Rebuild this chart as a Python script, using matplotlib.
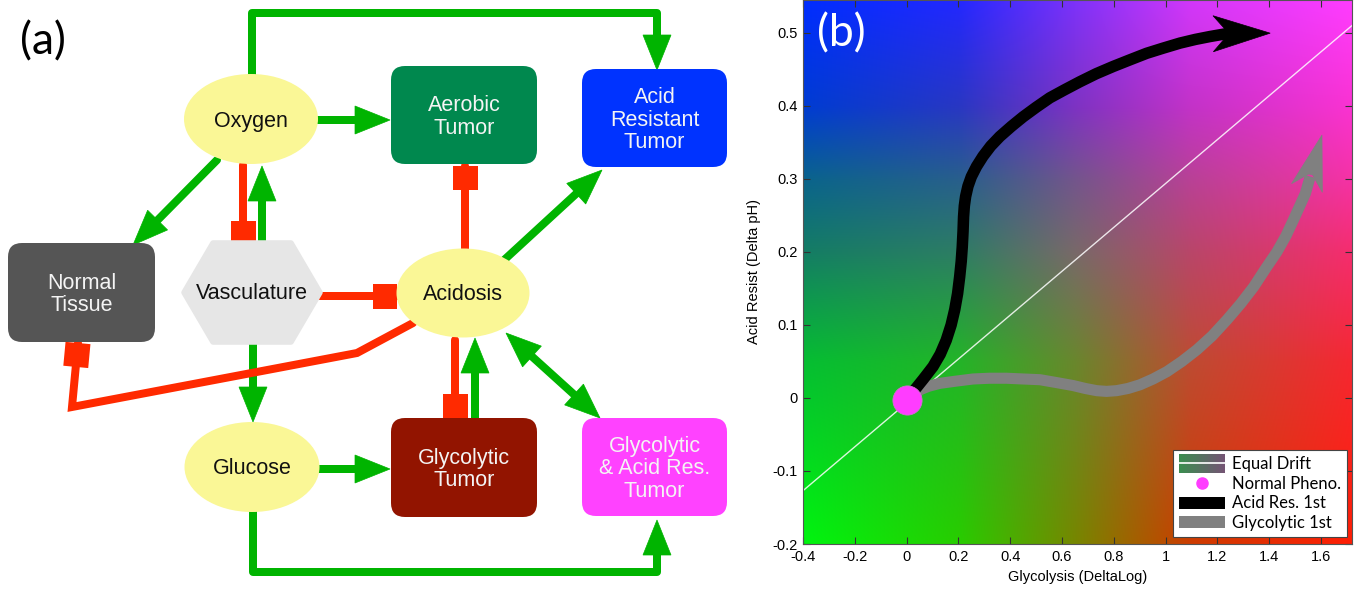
import numpy as np
import matplotlib
matplotlib.use('Agg')
import matplotlib.pyplot as plt
from matplotlib.patches import Ellipse, FancyBboxPatch, Polygon, Rectangle, Patch
from matplotlib.lines import Line2D
from matplotlib.legend_handler import HandlerBase
from matplotlib.transforms import Affine2D, ScaledTranslation

# ---------------- panel (a): network (pixel coordinates of the figure) ----------------
ellipse_names = ['Oxygen', 'Acidosis', 'Glucose']
ellipse_xy = [(251, 119), (463, 293), (252, 467)]
ellipse_wh = [(134, 90), (133, 89), (135, 90)]

box_names = ['Aerobic\nTumor', 'Acid\nResistant\nTumor', 'Normal\nTissue',
             'Glycolytic\nTumor', 'Glycolytic\n& Acid Res.\nTumor']
box_extent = [(391, 66, 537, 164), (582, 69, 727, 167), (8, 243, 155, 342),
              (391, 418, 537, 517), (582, 418, 727, 516)]
box_colors = ['#00884e', '#0033ff', '#555555', '#921400', '#ff42ff']

hex_name = 'Vasculature'
hex_extent = (184, 243, 320, 342)

activations = [
    [(252, 77), (252, 13), (657, 13), (657, 70)],
    [(318, 120), (390, 120)],
    [(217, 160), (133, 245)],
    [(262, 247), (262, 166)],
    [(253, 342), (253, 422)],
    [(503, 261), (602, 170)],
    [(319, 469), (390, 469)],
    [(253, 512), (253, 572), (657, 572), (657, 520)],
    [(475, 418), (475, 338)],
]
mutual = [[(506, 333), (600, 418)]]
inhibitions = [
    [(243, 165), (243, 245)],
    [(320, 296), (397, 296)],
    [(465, 250), (465, 166)],
    [(455, 340), (455, 418)],
    [(413, 323), (357, 353), (72, 407), (78, 343)],
]

# ---------------- panel (b): trajectories ----------------
acid_first_x = [0.02, 0.031, 0.065, 0.102, 0.130, 0.153, 0.172, 0.186, 0.197, 0.205, 0.211,
                0.215, 0.218, 0.220, 0.223, 0.228, 0.237, 0.250, 0.270, 0.295, 0.325,
                0.360, 0.405, 0.450, 0.500, 0.553, 0.610, 0.669, 0.732, 0.798, 0.862,
                0.927, 0.990, 1.056, 1.115, 1.172, 1.237, 1.404]
acid_first_y = [0.004, 0.011, 0.026, 0.043, 0.060, 0.079, 0.100, 0.121, 0.143, 0.166, 0.187,
                0.207, 0.228, 0.248, 0.263, 0.276, 0.290, 0.303, 0.317, 0.331, 0.345,
                0.358, 0.372, 0.385, 0.398, 0.411, 0.422, 0.433, 0.444, 0.454, 0.463,
                0.472, 0.479, 0.486, 0.491, 0.495, 0.499, 0.4996]
glyc_first_x = [0.03, 0.050, 0.085, 0.128, 0.190, 0.257, 0.320, 0.386, 0.450, 0.515, 0.580,
                0.643, 0.690, 0.734, 0.772, 0.811, 0.855, 0.901, 0.952, 1.005, 1.063,
                1.121, 1.180, 1.237, 1.290, 1.340, 1.386, 1.430, 1.465, 1.494, 1.540, 1.604]
glyc_first_y = [0.003, 0.011, 0.016, 0.020, 0.023, 0.026, 0.027, 0.027, 0.026, 0.025, 0.021,
                0.017, 0.013, 0.010, 0.009, 0.010, 0.013, 0.018, 0.026, 0.036, 0.050,
                0.066, 0.085, 0.107, 0.129, 0.152, 0.177, 0.200, 0.222, 0.244, 0.280, 0.360]
normal_x = [0.0]
normal_y = [-0.003]
drift_x = [-0.4, 1.72]
drift_y = [-0.127, 0.51]

x_ticks = [-0.4, -0.2, 0, 0.2, 0.4, 0.6, 0.8, 1, 1.2, 1.4, 1.6]
x_labels = ['-0.4', '-0.2', '0', '0.2', '0.4', '0.6', '0.8', '1', '1.2', '1.4', '1.6']
y_ticks = [-0.2, -0.1, 0, 0.1, 0.2, 0.3, 0.4, 0.5]
y_labels = ['-0.2', '-0.1', '0', '0.1', '0.2', '0.3', '0.4', '0.5']

# background colour field (control colours)
bg_x = [-0.4, 0.2, 0.65, 1.1, 1.72]
bg_y = [-0.2, 0.05, 0.2, 0.3, 0.4, 0.545]
bg_rgb = np.array([
    [(0, 245, 15), (40, 205, 0), (118, 135, 0), (205, 60, 0), (255, 30, 5)],
    [(5, 190, 50), (35, 180, 40), (105, 135, 45), (190, 75, 50), (245, 40, 50)],
    [(20, 125, 100), (45, 125, 100), (120, 105, 105), (185, 70, 105), (245, 45, 110)],
    [(10, 100, 140), (40, 95, 140), (115, 85, 140), (185, 65, 150), (245, 50, 165)],
    [(0, 60, 210), (40, 55, 195), (125, 50, 195), (195, 50, 200), (250, 50, 210)],
    [(0, 45, 255), (35, 40, 255), (125, 50, 250), (210, 55, 250), (255, 60, 255)],
]) / 255.0

GREEN = '#00b400'
RED = '#ff2a00'
YELLOW = '#faf796'
LW = 8 * 0.72
NODE_FONT = 15.5

fig = plt.figure(figsize=(13.55, 5.95), dpi=100)

# ---- panel (a)
ax = fig.add_axes([0, 0, 740 / 1355, 1])
ax.set_xlim(0, 740)
ax.set_ylim(595, 0)
ax.axis('off')


def unit(p0, p1):
    d = np.array(p1, float) - np.array(p0, float)
    u = d / np.hypot(*d)
    return u, np.array([-u[1], u[0]])


def head(p0, p1, length=35, half=14):
    u, n = unit(p0, p1)
    tip = np.array(p1, float)
    base = tip - length * u
    ax.add_patch(Polygon([tip, base + half * n, base - half * n], closed=True,
                         fc=GREEN, ec=GREEN, lw=0.5, zorder=3))
    return base


for pts in activations:
    base = head(pts[-2], pts[-1])
    xy = np.array(pts[:-1] + [tuple(base)], float)
    ax.plot(xy[:, 0], xy[:, 1], color=GREEN, lw=LW, solid_capstyle='round',
            solid_joinstyle='round', zorder=2)

for pts in mutual:
    b1 = head(pts[0], pts[1])
    b0 = head(pts[1], pts[0])
    ax.plot([b0[0], b1[0]], [b0[1], b1[1]], color=GREEN, lw=LW, zorder=2)

for pts in inhibitions:
    xy = np.array(pts, float)
    ax.plot(xy[:, 0], xy[:, 1], color=RED, lw=LW, solid_capstyle='round',
            solid_joinstyle='miter', zorder=2)
    u, n = unit(pts[-2], pts[-1])
    e = xy[-1]
    w, d = 12.5, 24
    ax.add_patch(Polygon([e + w * n, e - w * n, e - w * n - d * u, e + w * n - d * u],
                         closed=True, fc=RED, ec='none', zorder=3))

for name, (cx, cy), (w, h) in zip(ellipse_names, ellipse_xy, ellipse_wh):
    ax.add_patch(Ellipse((cx, cy), w, h, fc=YELLOW, ec='none', zorder=4))
    ax.text(cx, cy + 2, name, ha='center', va='center', fontsize=NODE_FONT,
            family='Liberation Sans', color='#111111', zorder=5)

for name, (x0, y0, x1, y1), c in zip(box_names, box_extent, box_colors):
    ax.add_patch(FancyBboxPatch((x0, y0), x1 - x0, y1 - y0,
                                boxstyle='round,pad=0,rounding_size=14',
                                fc=c, ec='none', zorder=4))
    ax.text((x0 + x1) / 2, (y0 + y1) / 2 + 2, name, ha='center', va='center',
            fontsize=NODE_FONT, family='Liberation Sans', color='#f4f4f4',
            linespacing=1.1, zorder=5)

x0, y0, x1, y1 = hex_extent
cx, cy = (x0 + x1) / 2, (y0 + y1) / 2
ins = 29
ax.add_patch(Polygon([(x0 + ins, y0), (x1 - ins, y0), (x1, cy), (x1 - ins, y1),
                      (x0 + ins, y1), (x0, cy)], closed=True, fc='#e6e6e6',
                     ec='#e6e6e6', lw=4, joinstyle='round', zorder=4))
ax.text(cx, cy + 1, hex_name, ha='center', va='center', fontsize=NODE_FONT,
        family='Liberation Sans', color='#111111', zorder=5)

ax.text(20, 42, '(a)', ha='left', va='center', fontsize=32, family='Lato', color='black')

# ---- panel (b)
bx = fig.add_axes([803 / 1355, 1 - 544 / 595, (1352 - 803) / 1355, 544 / 595])
gx = np.linspace(bg_x[0], bg_x[-1], 400)
gy = np.linspace(bg_y[0], bg_y[-1], 300)
rows = np.stack([[np.interp(gx, bg_x, bg_rgb[j, :, c]) for c in range(3)]
                 for j in range(len(bg_y))])          # (ny, 3, nx)
img = np.empty((len(gy), len(gx), 3))
for c in range(3):
    for i in range(len(gx)):
        img[:, i, c] = np.interp(gy, bg_y, rows[:, c, i])
bx.imshow(np.clip(img, 0, 1), extent=[bg_x[0], bg_x[-1], bg_y[0], bg_y[-1]],
          origin='lower', aspect='auto', interpolation='bilinear', zorder=0)

bx.plot(drift_x, drift_y, color='white', lw=1.0, alpha=0.85, zorder=1)

bx.set_xlim(-0.4, 1.72)
bx.set_ylim(-0.2, 0.545)


def trajectory(xs, ys, color, lw, length, half, notch, z):
    # notched arrow head drawn in pixels at the last point, shaft runs into the notch
    tip = bx.transData.transform((xs[-1], ys[-1]))
    prev = bx.transData.transform((xs[-2], ys[-2]))
    ang = np.arctan2(tip[1] - prev[1], tip[0] - prev[0])
    verts = [(0, 0), (-length, half), (-notch, 2), (-notch, -2), (-length, -half)]
    tr = Affine2D().rotate(ang) + ScaledTranslation(xs[-1], ys[-1], bx.transData)
    bx.add_patch(Polygon(verts, closed=True, fc=color, ec=color, lw=0.5,
                         transform=tr, zorder=z + 0.5))
    end = tip - (notch + 2) * np.array([np.cos(ang), np.sin(ang)])
    ex, ey = bx.transData.inverted().transform(end)
    bx.plot(list(xs[:-1]) + [ex], list(ys[:-1]) + [ey], color=color, lw=lw,
            solid_capstyle='butt', solid_joinstyle='round', zorder=z)


trajectory(acid_first_x, acid_first_y, 'black', 8.3, 57, 18, 43, 3)
trajectory(glyc_first_x, glyc_first_y, '#808080', 8.0, 55, 16, 41, 2)
bx.plot(normal_x, normal_y, 'o', color='#ff3cff', ms=21, mec='#d070d0', mew=0.6, zorder=4)

bx.set_xticks(x_ticks)
bx.set_xticklabels(x_labels)
bx.set_yticks(y_ticks)
bx.set_yticklabels(y_labels)
bx.tick_params(direction='in', top=True, right=True, length=5, width=0.8,
               color='#333333', labelsize=10.5, pad=4)
for lab in bx.get_xticklabels() + bx.get_yticklabels():
    lab.set_family('Liberation Sans')
for s in bx.spines.values():
    s.set_color('#555555')
    s.set_linewidth(0.8)
bx.set_xlabel('Glycolysis (DeltaLog)', fontsize=10.5, family='Liberation Sans', labelpad=5)
bx.set_ylabel('Acid Resist (Delta pH)', fontsize=10.5, family='Liberation Sans', labelpad=8)

bx.text(0.026, 0.975, '(b)', transform=bx.transAxes, ha='left', va='top',
        fontsize=32, family='Lato', color='white')


class DriftHandler(HandlerBase):
    def create_artists(self, legend, orig_handle, xd, yd, w, h, fontsize, trans):
        arts = []
        n = 16
        c0 = np.array([60, 140, 80]) / 255
        c1 = np.array([115, 85, 115]) / 255
        hh = h * 1.6
        cy = -yd + h / 2
        for i in range(n):
            col = c0 + (c1 - c0) * i / (n - 1)
            arts.append(Rectangle((-xd + i * w / n, cy - hh / 2), w / n * 1.05, hh,
                                  fc=col, ec='none', transform=trans))
        arts.append(Line2D([-xd, -xd + w], [cy, cy], color='white', lw=1.2, transform=trans))
        return arts


handles = [Line2D([], []), Line2D([], [], ls='none', marker='o', ms=8, color='#ff3cff'),
           Patch(fc='black', ec='none'), Patch(fc='#808080', ec='none')]
labels = ['Equal Drift', 'Normal Pheno.', 'Acid Res. 1st', 'Glycolytic 1st']
leg = bx.legend(handles, labels, loc='lower right', bbox_to_anchor=(0.991, 0.013),
                borderaxespad=0, fancybox=False, framealpha=1, edgecolor='#444444',
                handlelength=2.75, handleheight=0.75, handletextpad=0.45, labelspacing=0.22,
                borderpad=0.35, prop={'family': 'Lato', 'size': 12},
                handler_map={handles[0]: DriftHandler()})
leg.get_frame().set_linewidth(0.8)

fig.savefig('out.png', dpi=100)
